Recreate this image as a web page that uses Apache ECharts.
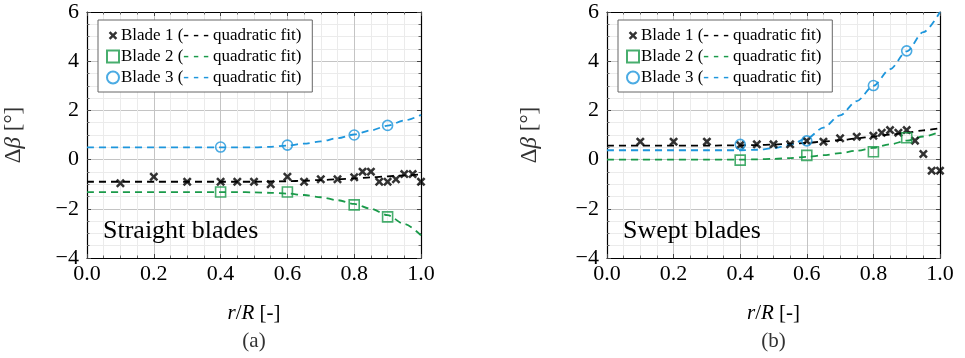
<!DOCTYPE html>
<html><head><meta charset="utf-8">
<script src="https://cdn.jsdelivr.net/npm/echarts@6/dist/echarts.min.js"></script>
<style>html,body{margin:0;padding:0;background:#fff}#c{width:965px;height:358px}</style>
</head><body><div id="c"></div>
<script>
// ---------- data ----------
const seriesNames = ['Blade 1', 'Blade 2', 'Blade 3'];
const panelTitles = ['Straight blades', 'Swept blades'];
const panelLabels = ['(a)', '(b)'];
const xTickValues = [0, 0.2, 0.4, 0.6, 0.8, 1.0];
const yTickValues = [-4, -2, 0, 2, 4, 6];

// Panel (a): straight blades
const a_b1_x = [0.10, 0.20, 0.30, 0.40, 0.45, 0.50, 0.55, 0.60, 0.65, 0.70, 0.75, 0.80, 0.825, 0.85, 0.875, 0.90, 0.925, 0.95, 0.975, 1.00];
const a_b1_y = [-0.96, -0.70, -0.90, -0.90, -0.90, -0.90, -1.00, -0.70, -0.90, -0.80, -0.80, -0.72, -0.49, -0.49, -0.90, -0.90, -0.80, -0.59, -0.59, -0.90];
const a_b2_x = [0.4, 0.6, 0.8, 0.9];
const a_b2_y = [-1.32, -1.32, -1.84, -2.33];
const a_b3_x = [0.4, 0.6, 0.8, 0.9];
const a_b3_y = [0.51, 0.59, 1.00, 1.39];

// Panel (b): swept blades
const b_b1_x = [0.10, 0.20, 0.30, 0.40, 0.45, 0.50, 0.55, 0.60, 0.65, 0.70, 0.75, 0.80, 0.825, 0.85, 0.875, 0.90, 0.925, 0.95, 0.975, 1.00];
const b_b1_y = [0.73, 0.73, 0.73, 0.59, 0.62, 0.62, 0.62, 0.76, 0.73, 0.87, 0.93, 0.97, 1.09, 1.20, 1.09, 1.20, 0.77, 0.23, -0.45, -0.45];
const b_b2_x = [0.4, 0.6, 0.8, 0.9];
const b_b2_y = [-0.02, 0.17, 0.32, 0.89];
const b_b3_x = [0.4, 0.6, 0.8, 0.9];
const b_b3_y = [0.62, 0.76, 3.01, 4.42];

// quadratic-fit curves
const fit_x = [0, 0.1, 0.2, 0.3, 0.4, 0.45, 0.5, 0.55, 0.6, 0.65, 0.7, 0.75, 0.8, 0.85, 0.9, 0.95, 1.0];
const a_fit1 = [-0.90, -0.90, -0.90, -0.90, -0.90, -0.90, -0.90, -0.89, -0.88, -0.86, -0.83, -0.80, -0.76, -0.72, -0.68, -0.64, -0.60];
const a_fit2 = [-1.32, -1.32, -1.32, -1.32, -1.32, -1.32, -1.33, -1.35, -1.38, -1.44, -1.53, -1.65, -1.80, -2.00, -2.26, -2.62, -3.08];
const a_fit3 = [0.50, 0.50, 0.50, 0.50, 0.50, 0.50, 0.50, 0.52, 0.57, 0.65, 0.74, 0.87, 1.02, 1.19, 1.38, 1.59, 1.82];
const b_fit1 = [0.57, 0.57, 0.57, 0.57, 0.58, 0.59, 0.61, 0.64, 0.68, 0.73, 0.79, 0.86, 0.94, 1.02, 1.10, 1.19, 1.28];
const b_fit2 = [0.00, 0.00, 0.00, 0.00, 0.00, 0.01, 0.03, 0.06, 0.11, 0.18, 0.26, 0.36, 0.48, 0.62, 0.77, 0.94, 1.13];
const b_fit3 = [0.38, 0.38, 0.38, 0.38, 0.38, 0.40, 0.46, 0.60, 0.86, 1.30, 1.80, 2.38, 3.00, 3.68, 4.40, 5.18, 6.00];

// ---------- styling ----------
const FONT = '"Liberation Serif", serif';
const colors = ['#000000', '#1a9a4a', '#1e96dc'];
const xPath = 'path://M0,2L2,0L5,3L8,0L10,2L7,5L10,8L8,10L5,7L2,10L0,8L3,5Z';
const xPathLegend = 'path://M-2,-2M12,12M0,2L2,0L5,3L8,0L10,2L7,5L10,8L8,10L5,7L2,10L0,8L3,5Z';

const pairs = (xs, ys) => xs.map((x, i) => [x, ys[i]]);
const panels = [
  { pts: [[a_b1_x, a_b1_y], [a_b2_x, a_b2_y], [a_b3_x, a_b3_y]], fits: [a_fit1, a_fit2, a_fit3] },
  { pts: [[b_b1_x, b_b1_y], [b_b2_x, b_b2_y], [b_b3_x, b_b3_y]], fits: [b_fit1, b_fit2, b_fit3] }
];
const grids = [
  { left: 87, top: 12, width: 334, height: 246 },
  { left: 607, top: 12, width: 333, height: 246 }
];

const majorGrid = { show: true, lineStyle: { color: '#c4c4c4', width: 1 } };
const minorGrid = { show: true, lineStyle: { color: '#ebebeb', width: 1 } };
const tickStyle = { show: true, inside: true, length: 4, lineStyle: { color: '#444', width: 1 } };
const minorTickStyle = { show: true, splitNumber: 4, length: 2.5, lineStyle: { color: '#666', width: 1 } };
const axisLine = { show: true, onZero: false, lineStyle: { color: '#000', width: 1.2 } };
const fmtNum = v => (v < 0 ? '\u2212' + Math.abs(v) : String(v));

const xAxes = [], yAxes = [];
grids.forEach((g, i) => {
  xAxes.push({
    type: 'value', gridIndex: i, position: 'bottom', min: 0, max: 1, interval: 0.2,
    axisLine, axisTick: tickStyle, minorTick: minorTickStyle,
    splitLine: majorGrid, minorSplitLine: minorGrid,
    axisLabel: { color: '#000', fontFamily: FONT, fontSize: 22, margin: 5, formatter: v => v.toFixed(1) },
    name: '{i|r}/{i|R} [-]', nameLocation: 'middle', nameGap: 45,
    nameTextStyle: { color: '#000', fontFamily: FONT, fontSize: 21,
      rich: { i: { fontStyle: 'italic', fontFamily: FONT, fontSize: 21, color: '#000' } } }
  });
  yAxes.push({
    type: 'value', gridIndex: i, position: 'left', min: -4, max: 6, interval: 2,
    axisLine, axisTick: tickStyle, minorTick: minorTickStyle,
    splitLine: majorGrid, minorSplitLine: minorGrid,
    axisLabel: { color: '#000', fontFamily: FONT, fontSize: 22, margin: 8, formatter: fmtNum },
    name: '\u0394{i|\u03b2} [\u00b0]', nameLocation: 'middle', nameGap: i === 0 ? 62 : 66,
    nameTextStyle: { color: '#333', fontFamily: FONT, fontSize: 23,
      rich: { i: { fontStyle: 'italic', fontFamily: FONT, fontSize: 23, color: '#333' } } }
  });
});
grids.forEach((g, i) => {
  xAxes.push({
    type: 'value', gridIndex: i, position: 'top', min: 0, max: 1, interval: 0.2,
    axisLine, axisTick: tickStyle, minorTick: minorTickStyle,
    axisLabel: { show: false }, splitLine: { show: false }, minorSplitLine: { show: false }
  });
  yAxes.push({
    type: 'value', gridIndex: i, position: 'right', min: -4, max: 6, interval: 2,
    axisLine, axisTick: tickStyle, minorTick: minorTickStyle,
    axisLabel: { show: false }, splitLine: { show: false }, minorSplitLine: { show: false }
  });
});

const series = [];
panels.forEach((p, pi) => {
  p.fits.forEach((fy, k) => {
    series.push({
      type: 'line', name: seriesNames[k] + ' fit', xAxisIndex: pi, yAxisIndex: pi,
      data: pairs(fit_x, fy), showSymbol: false, symbol: 'none', smooth: 0.3, smoothMonotone: 'x',
      lineStyle: { color: colors[k], width: 1.8, type: [7, 5] }, z: 2, silent: true
    });
  });
  p.pts.forEach(([xs, ys], k) => {
    const base = { type: 'scatter', name: seriesNames[k], xAxisIndex: pi, yAxisIndex: pi, data: pairs(xs, ys), z: 3, silent: true };
    if (k === 0) {
      Object.assign(base, { symbol: xPath, symbolSize: 9, itemStyle: { color: '#000', borderWidth: 0 } });
    } else if (k === 1) {
      Object.assign(base, { symbol: 'rect', symbolSize: 10, itemStyle: { color: 'rgba(255,255,255,0)', borderColor: colors[1], borderWidth: 1.6 } });
    } else {
      Object.assign(base, { symbol: 'circle', symbolSize: 10, itemStyle: { color: 'rgba(255,255,255,0)', borderColor: colors[2], borderWidth: 1.6 } });
    }
    series.push(base);
  });
});

const legendRich = {};
colors.forEach((c, k) => { legendRich['k' + k] = { color: c, fontFamily: FONT, fontSize: 17, fontWeight: 'bold' }; });
const legends = [98, 618].map(left => ({
  show: true, orient: 'vertical', left, top: 20,
  padding: [5, 11, 4, 8], itemGap: 0, itemWidth: 12, itemHeight: 12,
  backgroundColor: '#fff', borderColor: '#666', borderWidth: 1, borderRadius: 0,
  selectedMode: false,
  data: [
    { name: seriesNames[0], icon: xPathLegend },
    { name: seriesNames[1], icon: 'rect' },
    { name: seriesNames[2], icon: 'circle' }
  ],
  formatter: name => name + ' ({k' + seriesNames.indexOf(name) + '|- - -} quadratic fit)',
  textStyle: { color: '#000', fontFamily: FONT, fontSize: 17, lineHeight: 21, padding: [0, 0, 0, -3], rich: legendRich }
}));

const graphics = [];
grids.forEach((g, i) => {
  graphics.push({ type: 'text', x: g.left + 16, y: 231, z: 100, silent: true,
    style: { text: panelTitles[i], fill: '#000', font: '26px "Liberation Serif", serif', textAlign: 'left', textVerticalAlign: 'middle' } });
  graphics.push({ type: 'text', x: g.left + g.width / 2, y: 341, z: 100, silent: true,
    style: { text: panelLabels[i], fill: '#333', font: '21px "Liberation Serif", serif', textAlign: 'center', textVerticalAlign: 'middle' } });
});

const chart = echarts.init(document.getElementById('c'), null, { renderer: 'canvas' });
chart.setOption({
  animation: false,
  backgroundColor: '#fff',
  grid: grids.map(g => Object.assign({ containLabel: false, outerBoundsMode: 'none' }, g)),
  xAxis: xAxes,
  yAxis: yAxes,
  legend: legends,
  series,
  graphic: graphics
});
</script>
</body></html>
